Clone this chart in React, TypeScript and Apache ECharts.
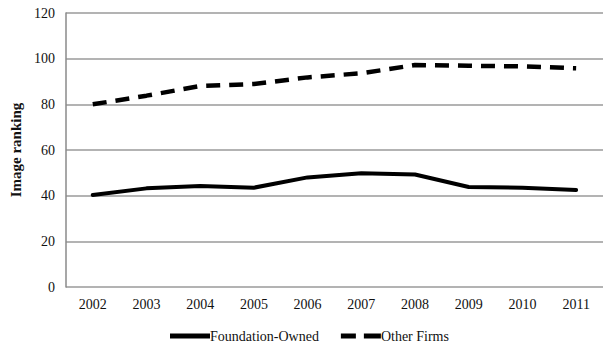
import React, { useEffect, useRef } from "react";
import * as echarts from "echarts";

const years = ["2002", "2003", "2004", "2005", "2006", "2007", "2008", "2009", "2010", "2011"];
const foundationOwned = [40.3, 43.2, 44.2, 43.5, 48, 49.8, 49.3, 43.8, 43.5, 42.5];
const otherFirms = [80, 83.8, 88, 88.9, 91.8, 93.6, 97.2, 96.9, 96.6, 95.8];
const yTicks = { min: 0, max: 120, interval: 20 };

const FONT = "'Liberation Serif', 'Times New Roman', serif";

export default function App() {
  const ref = useRef<HTMLDivElement>(null);
  useEffect(() => {
    if (!ref.current) return;
    const chart = echarts.init(ref.current, null, { renderer: "svg" });
    chart.setOption({
      animation: false,
      backgroundColor: "#ffffff",
      grid: { left: 61, top: 13, width: 553, height: 274, containLabel: false },
      xAxis: {
        type: "category",
        data: years,
        boundaryGap: true,
        axisLine: { show: false },
        axisTick: { show: false },
        axisLabel: { color: "#111", fontFamily: FONT, fontSize: 14, margin: 10 },
        splitLine: { show: false },
      },
      yAxis: {
        type: "value",
        min: yTicks.min,
        max: yTicks.max,
        interval: yTicks.interval,
        name: "Image ranking",
        nameLocation: "middle",
        nameGap: 39,
        nameTextStyle: { color: "#111", fontFamily: FONT, fontSize: 15, fontWeight: "bold" },
        axisLine: { show: true, lineStyle: { color: "#8a8a8a", width: 1.5 } },
        axisTick: { show: false },
        axisLabel: { color: "#111", fontFamily: FONT, fontSize: 14, margin: 11 },
        splitLine: { show: true, lineStyle: { color: "#9a9a9a", width: 1.5 } },
      },
      legend: {
        top: 324,
        left: 165,
        itemWidth: 40,
        itemHeight: 5,
        itemGap: 22,
        symbolKeepAspect: false,
        textStyle: { color: "#111", fontFamily: FONT, fontSize: 14, padding: [0, 0, 0, -5] },
        data: [
          { name: "Foundation-Owned", icon: "path://M0,0H40V5H0Z" },
          { name: "Other Firms", icon: "path://M0,0H15V5H0Z M23,0H40V5H23Z" },
        ],
      },
      series: [
        {
          name: "Foundation-Owned",
          type: "line",
          data: foundationOwned,
          symbol: "none",
          lineStyle: { color: "#000", width: 4, cap: "round", join: "round" },
          itemStyle: { color: "#000" },
        },
        {
          name: "Other Firms",
          type: "line",
          data: otherFirms,
          symbol: "none",
          lineStyle: { color: "#000", width: 4.5, type: [14, 9], cap: "butt" },
          itemStyle: { color: "#000" },
        },
      ],
    });
    return () => chart.dispose();
  }, []);
  return <div ref={ref} style={{ width: 603, height: 342, position: "absolute", left: 0, top: 0 }} />;
}
